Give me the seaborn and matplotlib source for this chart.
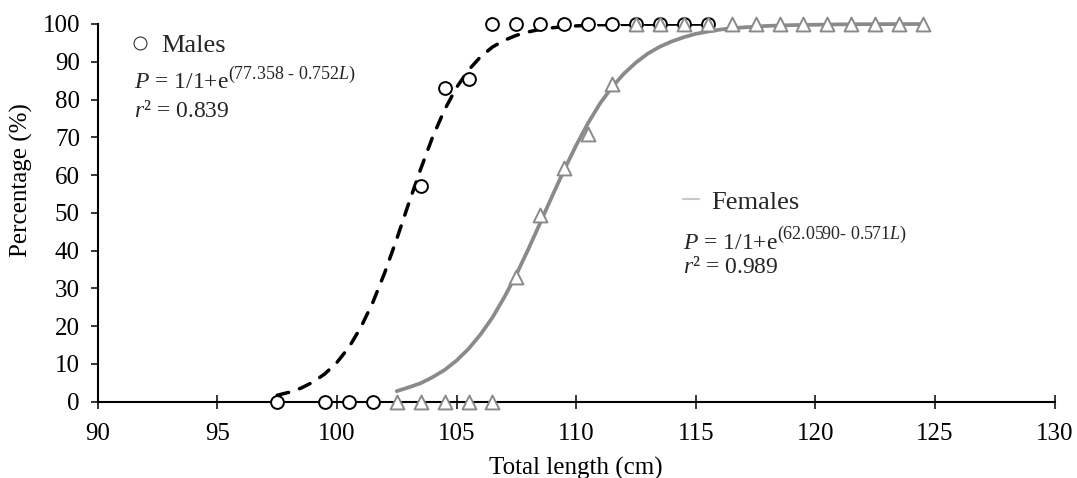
import matplotlib
matplotlib.use("Agg")
import matplotlib.pyplot as plt
import seaborn as sns
from matplotlib.lines import Line2D

# ---------------- data ----------------
male_len = [97.5, 99.5, 100.5, 101.5, 103.5, 104.5, 105.5, 106.5, 107.5, 108.5,
            109.5, 110.5, 111.5, 112.5, 113.5, 114.5, 115.5]
male_pct = [0, 0, 0, 0, 57, 83, 85.5, 100, 100, 100,
            100, 100, 100, 100, 100, 100, 100]

female_len = [102.5, 103.5, 104.5, 105.5, 106.5, 107.5, 108.5, 109.5, 110.5, 111.5,
              112.5, 113.5, 114.5, 115.5, 116.5, 117.5, 118.5, 119.5, 120.5, 121.5,
              122.5, 123.5, 124.5]
female_pct = [0, 0, 0, 0, 0, 33, 49.5, 62, 71, 84,
              100, 100, 100, 100, 100, 100, 100, 100, 100, 100,
              100, 100, 100]

# fitted curves as they appear in the picture
male_fit_len = [97.5, 98.0, 98.5, 99.0, 99.5, 100.0, 100.5, 101.0, 101.5, 102.0,
                102.5, 103.0, 103.5, 104.0, 104.5, 105.0, 105.5, 106.0, 106.5, 107.0,
                107.5, 108.0, 108.5, 109.0, 109.5, 110.0, 111.0, 112.0, 113.0, 114.0, 115.5]
male_fit_pct = [1.7, 2.5, 3.6, 5.2, 7.4, 10.4, 14.4, 19.7, 26.3, 34.2,
                43.1, 52.5, 61.6, 70.1, 77.3, 83.2, 87.8, 91.3, 93.9, 95.7,
                97.0, 97.9, 98.6, 99.0, 99.3, 99.5, 99.8, 99.9, 99.95, 99.98, 99.99]

female_fit_len = [102.5, 103.0, 103.5, 104.0, 104.5, 105.0, 105.5, 106.0, 106.5, 107.0,
                  107.5, 108.0, 108.5, 109.0, 109.5, 110.0, 110.5, 111.0, 111.5, 112.0,
                  112.5, 113.0, 113.5, 114.0, 114.5, 115.0, 115.5, 116.0, 116.5, 117.0,
                  118.0, 119.0, 120.0, 121.0, 122.0, 123.0, 124.5]
female_fit_pct = [2.8, 3.8, 4.9, 6.5, 8.4, 10.9, 14.0, 17.8, 22.3, 27.7,
                  33.7, 40.4, 47.4, 54.5, 61.4, 67.9, 73.8, 79.0, 83.3, 86.9,
                  89.8, 92.2, 94.0, 95.4, 96.5, 97.4, 98.0, 98.5, 98.9, 99.1,
                  99.5, 99.7, 99.8, 99.9, 99.95, 99.97, 99.99]

x_ticks = [90, 95, 100, 105, 110, 115, 120, 125, 130]
y_ticks = [0, 10, 20, 30, 40, 50, 60, 70, 80, 90, 100]

male_label = "Males"
female_label = "Females"
male_eq = ("$P$ = 1/1+e", "(77.358 - 0.752$L$)", "$r$\u00b2 = 0.839")
female_eq = ("$P$ = 1/1+e", "(62.0590- 0.571$L$)", "$r$\u00b2 = 0.989")

# ---------------- style ----------------
sns.set_style("ticks")
plt.rcParams["font.family"] = ["Liberation Serif", "DejaVu Serif"]
plt.rcParams["mathtext.fontset"] = "custom"
plt.rcParams["mathtext.rm"] = "Liberation Serif"
plt.rcParams["mathtext.it"] = "Liberation Serif:italic"

GRAY = "#8a8a8a"

fig = plt.figure(figsize=(10.77, 4.78), dpi=100)
ax = fig.add_axes([0.0907, 0.1596, 0.8886, 0.7902])

sns.lineplot(x=male_fit_len, y=male_fit_pct, ax=ax, color="black", linewidth=2.5,
             linestyle=(0, (3.4, 3.3)), dash_capstyle="round", zorder=2)
sns.scatterplot(x=male_len, y=male_pct, ax=ax, marker="o", s=85, color="white",
                edgecolor="black", linewidth=1.4, zorder=3, clip_on=False)
sns.lineplot(x=female_fit_len, y=female_fit_pct, ax=ax, color=GRAY, linewidth=2.7,
             zorder=4, clip_on=False)
sns.scatterplot(x=female_len, y=female_pct, ax=ax, marker="^", s=100, color="white",
                edgecolor=GRAY, linewidth=1.4, zorder=5, clip_on=False)

ax.set_xlim(90, 130)
ax.set_ylim(0, 100)
ax.set_xticks(x_ticks)
ax.set_yticks(y_ticks)
sns.despine(ax=ax)
for s in ("left", "bottom"):
    ax.spines[s].set_linewidth(1.5)
    ax.spines[s].set_color("black")
    ax.spines[s].set_zorder(1)

ax.tick_params(axis="x", direction="inout", length=9.5, width=1.1, pad=10.4,
               labelsize=18, color="black", labelcolor="black")
ax.tick_params(axis="y", direction="out", length=5.3, width=1.1, pad=7.5,
               labelsize=18, color="black", labelcolor="black")

ax.set_xlabel("Total length (cm)", fontsize=18, color="black")
ax.set_ylabel("Percentage (%)", fontsize=18, color="black")
ax.xaxis.set_label_coords(0.5, -0.146)
ax.yaxis.set_label_coords(-0.0673, 0.587)

# ---------------- legends ----------------
leg1 = ax.legend(handles=[Line2D([], [], marker="o", ls="none", mfc="white", mec="#333333",
                                 ms=9.3, mew=0.8)],
                 labels=[male_label], loc="center left", bbox_to_anchor=(0.0346, 0.944),
                 frameon=False, fontsize=19, handlelength=0.7, handletextpad=0.47,
                 borderpad=0, borderaxespad=0)
ax.add_artist(leg1)
leg2 = ax.legend(handles=[Line2D([], [], color="#c8c8c8", lw=1.5)],
                 labels=[female_label], loc="center left", bbox_to_anchor=(0.6116, 0.529),
                 frameon=False, fontsize=19, handlelength=0.6, handletextpad=0.48,
                 borderpad=0, borderaxespad=0)

# ---------------- equations ----------------
def equation(x, y1, y2, parts):
    t = ax.text(x, y1, parts[0], transform=ax.transAxes, fontsize=17,
                va="baseline", ha="left")
    ax.annotate(parts[1], xy=(1, 0), xycoords=t, xytext=(-0.5, 10.4),
                textcoords="offset points", fontsize=13, va="baseline", ha="left")
    ax.text(x, y2, parts[2], transform=ax.transAxes, fontsize=17,
            va="baseline", ha="left")

equation(0.0382, 0.8305, 0.7546, male_eq)
equation(0.6116, 0.405, 0.340, female_eq)

fig.savefig("out.png", dpi=100)
